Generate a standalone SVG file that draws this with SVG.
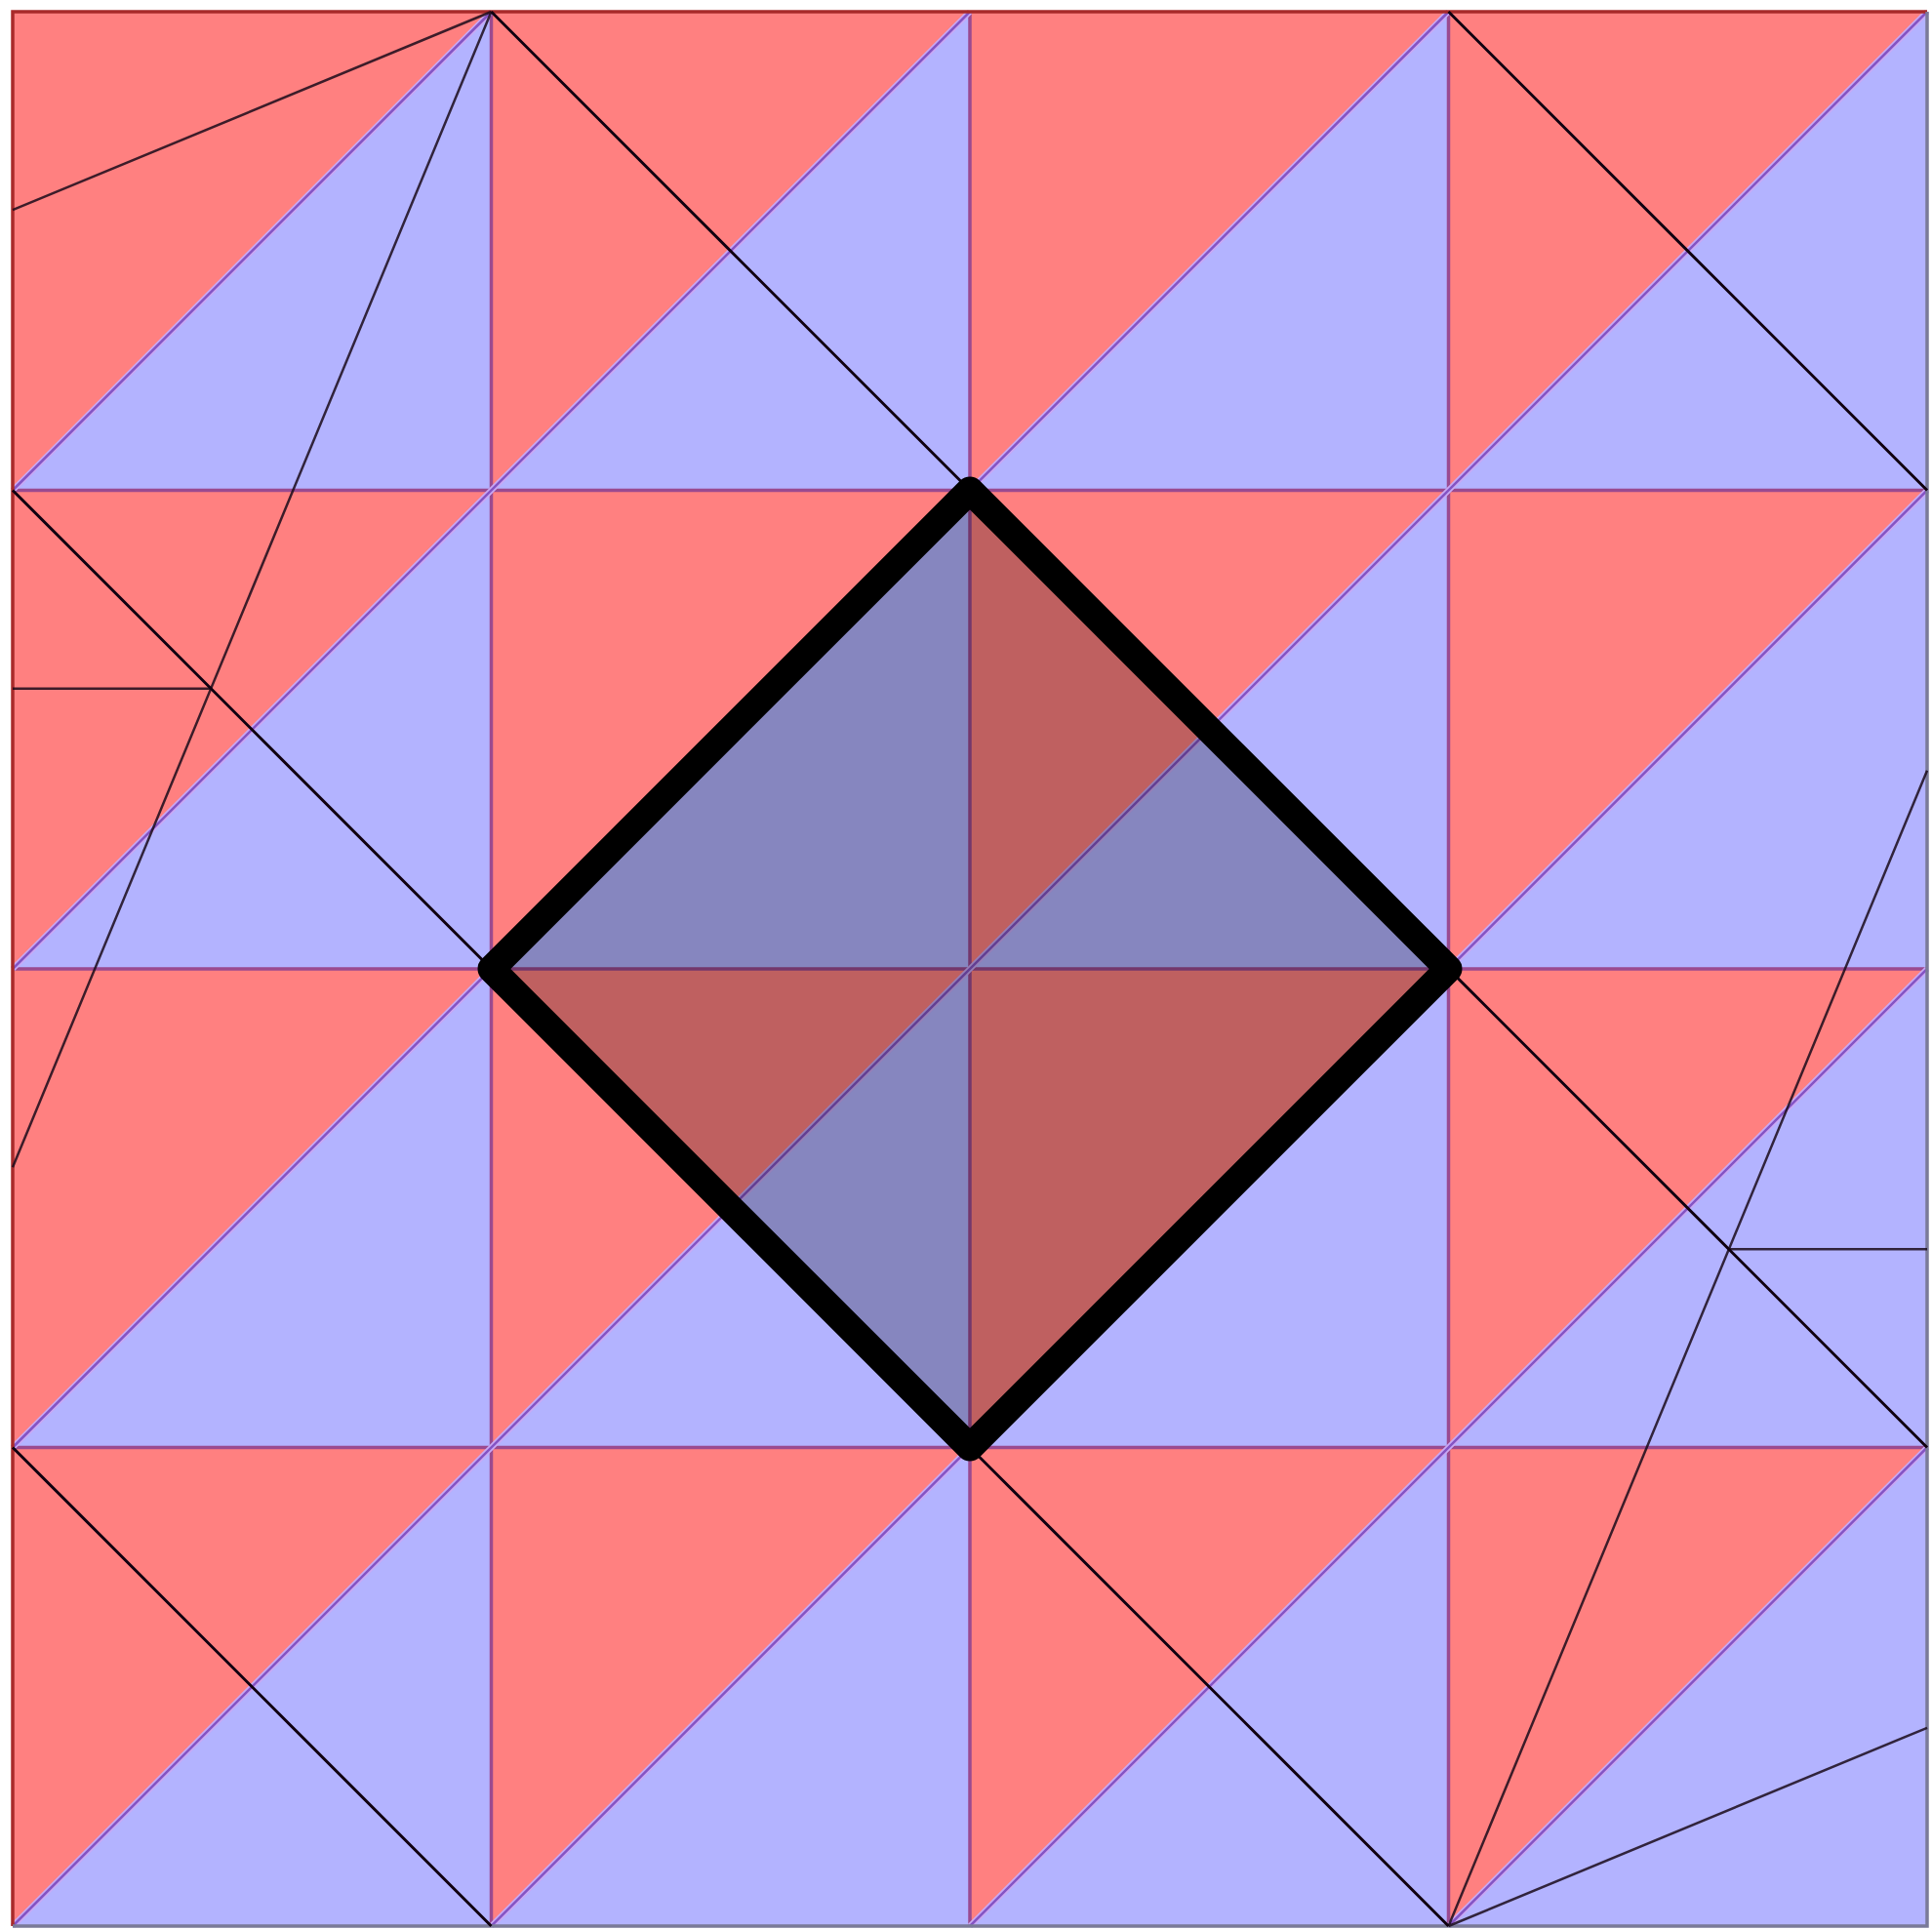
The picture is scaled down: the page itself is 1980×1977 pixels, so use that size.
<svg xmlns="http://www.w3.org/2000/svg" width="1980" height="1977" viewBox="0 0 1980 1977">
<style>
.r{fill:#ff8080}
.b{fill:#b3b3ff}
.g{stroke:#9a4a90;stroke-width:3.5;fill:none}
.dh{stroke:#c9a8f4;stroke-width:6;fill:none}
.d{stroke:#8454c4;stroke-width:2.5;fill:none}
.k{stroke:#1a0a1a;stroke-width:2.5;fill:none;stroke-opacity:0.85}
.kd{stroke:#100010;stroke-width:3;fill:none}
.dia{fill:#000;fill-opacity:0.25;stroke:#000;stroke-width:28;stroke-linejoin:round}
</style>
<rect width="1980" height="1977" fill="#fff"/>
<g id="tiles">
<polygon class="r" points="13,12 503.5,12 13,502.5"/><polygon class="b" points="503.5,12 503.5,502.5 13,502.5"/>
<polygon class="r" points="503.5,12 994,12 503.5,502.5"/><polygon class="b" points="994,12 994,502.5 503.5,502.5"/>
<polygon class="r" points="994,12 1484.5,12 994,502.5"/><polygon class="b" points="1484.5,12 1484.5,502.5 994,502.5"/>
<polygon class="r" points="1484.5,12 1975,12 1484.5,502.5"/><polygon class="b" points="1975,12 1975,502.5 1484.5,502.5"/>
<polygon class="r" points="13,502.5 503.5,502.5 13,993"/><polygon class="b" points="503.5,502.5 503.5,993 13,993"/>
<polygon class="r" points="503.5,502.5 994,502.5 503.5,993"/><polygon class="b" points="994,502.5 994,993 503.5,993"/>
<polygon class="r" points="994,502.5 1484.5,502.5 994,993"/><polygon class="b" points="1484.5,502.5 1484.5,993 994,993"/>
<polygon class="r" points="1484.5,502.5 1975,502.5 1484.5,993"/><polygon class="b" points="1975,502.5 1975,993 1484.5,993"/>
<polygon class="r" points="13,993 503.5,993 13,1483.5"/><polygon class="b" points="503.5,993 503.5,1483.5 13,1483.5"/>
<polygon class="r" points="503.5,993 994,993 503.5,1483.5"/><polygon class="b" points="994,993 994,1483.5 503.5,1483.5"/>
<polygon class="r" points="994,993 1484.5,993 994,1483.5"/><polygon class="b" points="1484.5,993 1484.5,1483.5 994,1483.5"/>
<polygon class="r" points="1484.5,993 1975,993 1484.5,1483.5"/><polygon class="b" points="1975,993 1975,1483.5 1484.5,1483.5"/>
<polygon class="r" points="13,1483.5 503.5,1483.5 13,1974"/><polygon class="b" points="503.5,1483.5 503.5,1974 13,1974"/>
<polygon class="r" points="503.5,1483.5 994,1483.5 503.5,1974"/><polygon class="b" points="994,1483.5 994,1974 503.5,1974"/>
<polygon class="r" points="994,1483.5 1484.5,1483.5 994,1974"/><polygon class="b" points="1484.5,1483.5 1484.5,1974 994,1974"/>
<polygon class="r" points="1484.5,1483.5 1975,1483.5 1484.5,1974"/><polygon class="b" points="1975,1483.5 1975,1974 1484.5,1974"/>
</g>
<g id="grid">
<path class="g" d="M503.5,12V1974M994,12V1974M1484.5,12V1974M13,502.5H1975M13,993H1975M13,1483.5H1975"/>
<path class="dh" d="M13,502.5L503.5,12M13,993L994,12M13,1483.5L1484.5,12M13,1974L1975,12M503.5,1974L1975,502.5M994,1974L1975,993M1484.5,1974L1975,1483.5"/>
<path class="d" d="M13,502.5L503.5,12M13,993L994,12M13,1483.5L1484.5,12M13,1974L1975,12M503.5,1974L1975,502.5M994,1974L1975,993M1484.5,1974L1975,1483.5"/>
</g>
<g id="border">
<path d="M13,1974V12H1975" stroke="#a82a2a" stroke-width="3.5" fill="none"/>
<path d="M1975,12V1974H13" stroke="#7a7a98" stroke-width="3.5" fill="none"/>
</g>
<g id="connectors">
<path class="k" d="M503.5,12L13,215.2M503.5,12L13,1196.2M13,705.7H216.2M1484.5,1974L1975,789.8M1484.5,1974L1975,1770.8M1771.8,1280.3H1975"/>
<path class="kd" d="M503.5,12L994,502.5M13,502.5L503.5,993M1484.5,12L1975,502.5M1484.5,993L1975,1483.5M13,1483.5L503.5,1974M994,1483.5L1484.5,1974"/>
</g>
<g id="diamond">
<polygon class="dia" points="503.5,993 994,502.5 1484.5,993 994,1483.5"/>
</g>
</svg>
